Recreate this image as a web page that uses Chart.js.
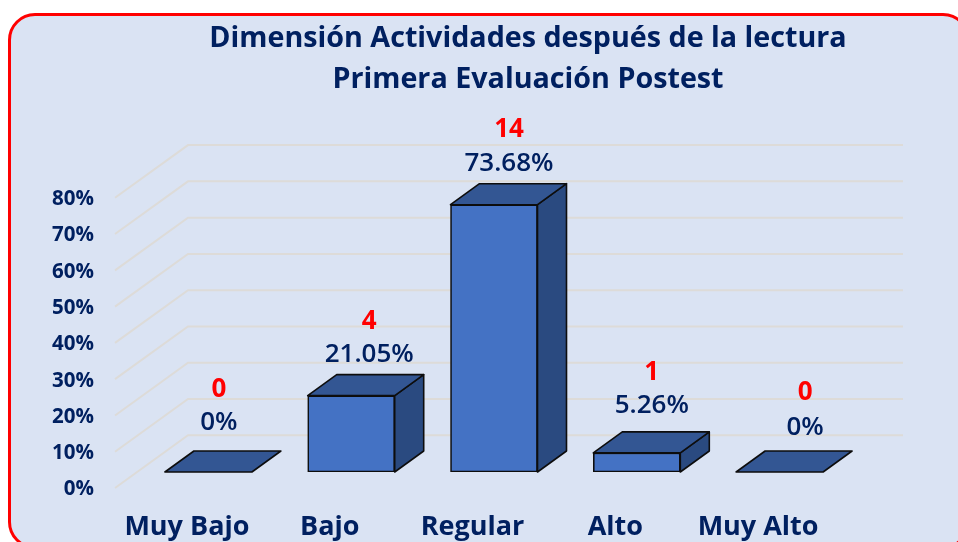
<!DOCTYPE html>
<html lang="es">
<head>
<meta charset="utf-8">
<title>Dimensión Actividades después de la lectura</title>
<script src="https://cdn.jsdelivr.net/npm/chart.js@4"></script>
<style>
html,body{margin:0;padding:0;width:958px;height:542px;overflow:hidden;background:#fff}
#frame{position:absolute;left:8px;top:13px;width:956px;height:530px;border:3.5px solid #ff0000;border-radius:27px;background:#dae3f3}
#c{position:absolute;left:0;top:0}
</style>
</head>
<body>
<div id="frame"></div>
<canvas id="c" width="958" height="542"></canvas>
<script>
const titleLines = ["Dimensión Actividades después de la lectura", "Primera Evaluación Postest"];
const categories = ["Muy Bajo", "Bajo", "Regular", "Alto", "Muy Alto"];
const percentages = [0, 21.05, 73.68, 5.26, 0];
const counts = [0, 4, 14, 1, 0];
const percentLabels = ["0%", "21.05%", "73.68%", "5.26%", "0%"];

const NAVY = "#002060";
const FONT = '"Open Sans", "Noto Sans", sans-serif';
const DEPTH = { x: 29, y: -21 };
const WALL = { x: 73, y: -52.7, front: 22, frontDrop: 16, right: 903 };
const labelShift = [
  { x: 10.5, pct: -49, cnt: -82 },
  { x: 18, pct: -41.5, cnt: -74.5 },
  { x: 15, pct: -41, cnt: -75 },
  { x: 15, pct: -47, cnt: -80 },
  { x: 25.5, pct: -44, cnt: -79 }
];

const wallGrid = {
  id: "wallGrid",
  beforeDatasetsDraw(chart) {
    const { ctx, scales: { y }, chartArea } = chart;
    ctx.save();
    ctx.strokeStyle = "#dddbd8";
    ctx.lineWidth = 2;
    y.ticks.forEach(t => {
      const py = y.getPixelForValue(t.value) + WALL.frontDrop;
      const fx = chartArea.left - WALL.front;
      ctx.beginPath();
      ctx.moveTo(fx, py);
      ctx.lineTo(fx + WALL.x, py + WALL.y);
      ctx.lineTo(WALL.right, py + WALL.y);
      ctx.stroke();
    });
    ctx.restore();
  }
};

const bar3d = {
  id: "bar3d",
  afterDatasetsDraw(chart) {
    const { ctx } = chart;
    const meta = chart.getDatasetMeta(0);
    ctx.save();
    ctx.lineWidth = 1.6;
    ctx.lineJoin = "round";
    ctx.strokeStyle = "#0d0d0d";
    meta.data.forEach((el, i) => {
      const l = el.x - el.width / 2, r = el.x + el.width / 2, t = el.y, b = el.base;
      const poly = (pts, fill) => {
        ctx.beginPath();
        pts.forEach((p, k) => k ? ctx.lineTo(p[0], p[1]) : ctx.moveTo(p[0], p[1]));
        ctx.closePath();
        ctx.fillStyle = fill;
        ctx.fill();
        ctx.stroke();
      };
      if (b - t > 0.5) {
        poly([[r, t], [r + DEPTH.x, t + DEPTH.y], [r + DEPTH.x, b + DEPTH.y], [r, b]], "#2a4a80");
      }
      poly([[l, t], [l + DEPTH.x, t + DEPTH.y], [r + DEPTH.x, t + DEPTH.y], [r, t]], "#335693");
    });
    ctx.textAlign = "center";
    ctx.textBaseline = "middle";
    meta.data.forEach((el, i) => {
      const s = labelShift[i];
      ctx.font = "600 26px " + FONT;
      ctx.fillStyle = NAVY;
      ctx.fillText(percentLabels[i], el.x + s.x, el.y + s.pct);
      ctx.font = "700 26px " + FONT;
      ctx.fillStyle = "#ff0000";
      ctx.fillText(String(counts[i]), el.x + s.x, el.y + s.cnt);
    });
    ctx.restore();
  }
};

new Chart(document.getElementById("c"), {
  type: "bar",
  data: {
    labels: categories,
    datasets: [{
      data: percentages,
      backgroundColor: "#4472c4",
      borderColor: "#0d0d0d",
      borderWidth: 1.6,
      borderSkipped: false,
      barThickness: 87
    }]
  },
  options: {
    responsive: false,
    animation: false,
    devicePixelRatio: 1,
    layout: { padding: { left: 0, right: -98, top: 0, bottom: 0 } },
    plugins: {
      legend: { display: false },
      tooltip: { enabled: false },
      title: {
        display: true,
        text: titleLines,
        color: NAVY,
        font: { family: FONT, size: 28.7, weight: "700", lineHeight: 1.43 },
        padding: { top: 18, bottom: 81.7 }
      }
    },
    scales: {
      x: {
        grid: { display: false },
        border: { display: false },
        ticks: {
          color: NAVY,
          font: { family: FONT, size: 27, weight: "700" },
          autoSkip: false,
          maxRotation: 0,
          labelOffset: -21.5,
          padding: 31.5
        },
        afterFit(s) { s.height = 70; }
      },
      y: {
        min: 0,
        max: 80,
        grid: { display: false },
        border: { display: false },
        ticks: {
          stepSize: 10,
          color: NAVY,
          font: { family: FONT, size: 20.5, weight: "700" },
          padding: 35,
          labelOffset: 17.5,
          callback: v => v + "%"
        },
        afterFit(s) { s.width = 137; }
      },
      yEdge: {
        position: "right",
        display: true,
        grid: { display: false },
        border: { display: false },
        ticks: { display: false },
        afterFit(s) { s.width = 205; }
      }
    }
  },
  plugins: [wallGrid, bar3d]
});
</script>
</body>
</html>
